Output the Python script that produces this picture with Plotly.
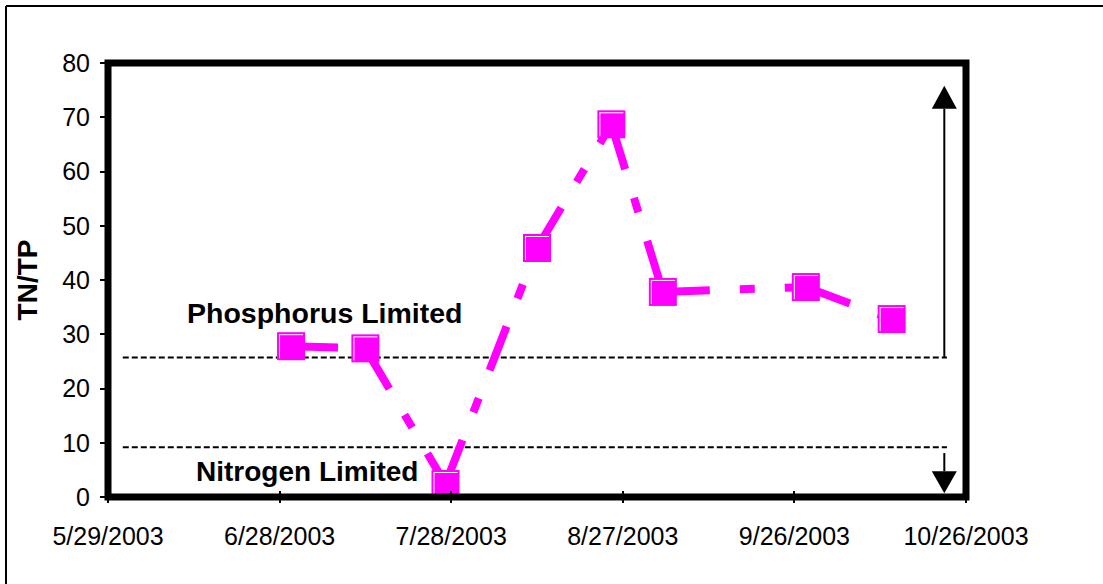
import pandas as pd
import plotly.graph_objects as go

# ---- data ----
sample_dates = ['2003-06-30', '2003-07-13', '2003-07-27', '2003-08-12',
                '2003-08-25', '2003-09-03', '2003-09-28', '2003-10-13']
tn_tp = [27.8, 27.4, 2.4, 45.9, 68.7, 37.8, 38.7, 32.8]

tick_dates = ['2003-05-29', '2003-06-28', '2003-07-28', '2003-08-27',
              '2003-09-26', '2003-10-26']
tick_labels = ['5/29/2003', '6/28/2003', '7/28/2003', '8/27/2003',
               '9/26/2003', '10/26/2003']
y_ticks = [0, 10, 20, 30, 40, 50, 60, 70, 80]

phosphorus_limit = 25.7
nitrogen_limit = 9.15
limit_line_start = '2003-05-31 14:00'
limit_line_end = '2003-10-22 16:00'
arrow_date = '2003-10-22 05:00'
arrow_up_tip = 75.8
arrow_down_start = 8.1
arrow_down_tip = 0.7

# ---- geometry ----
W_FIG, H_FIG = 1103, 584
ML, MR, MT, MB = 108, 137, 63, 87
PW, PH = W_FIG - ML - MR, H_FIG - MT - MB

MAGENTA = '#FF00FF'
FONT = 'Arial, Liberation Sans, sans-serif'

x_start = pd.Timestamp(tick_dates[0])
x_end = pd.Timestamp(tick_dates[-1])
ms_per_px = (x_end - x_start) / PW
y_per_px = (y_ticks[-1] - y_ticks[0]) / PH

fig = go.Figure()

# dashed line, pattern restarts at every segment
for i in range(len(sample_dates) - 1):
    fig.add_trace(go.Scatter(
        x=sample_dates[i:i + 2], y=tn_tp[i:i + 2], mode='lines',
        line=dict(color=MAGENTA, width=8, dash='47px,30px,15px,30px'),
        hoverinfo='skip', showlegend=False))

# markers: magenta body + white inner highlight (top / left)
fig.add_trace(go.Scatter(
    x=sample_dates, y=tn_tp, mode='markers',
    marker=dict(symbol='square', size=28, color=MAGENTA, line=dict(width=0)),
    showlegend=False, name='TN/TP'))
fig.add_trace(go.Scatter(
    x=sample_dates, y=tn_tp, mode='markers',
    marker=dict(symbol='square', size=24, color='white', line=dict(width=0)),
    hoverinfo='skip', showlegend=False))
fig.add_trace(go.Scatter(
    x=sample_dates, y=tn_tp, mode='markers', xaxis='x3', yaxis='y3',
    marker=dict(symbol='square', size=24, color=MAGENTA, line=dict(width=0)),
    hoverinfo='skip', showlegend=False))

# second x axis only for the inward half of the crossing ticks
fig.add_trace(go.Scatter(x=tick_dates[:1], y=[None], xaxis='x2',
                         showlegend=False, hoverinfo='skip'))

shapes = []
for lvl in (phosphorus_limit, nitrogen_limit):
    shapes.append(dict(type='line', xref='x', yref='y',
                       x0=limit_line_start, x1=limit_line_end, y0=lvl, y1=lvl,
                       line=dict(color='black', width=2, dash='6px,3px'),
                       layer='below'))
# up arrow
shapes.append(dict(type='line', xref='x', yref='y', x0=arrow_date, x1=arrow_date,
                   y0=phosphorus_limit, y1=arrow_up_tip - 23 * y_per_px,
                   line=dict(color='black', width=2)))
shapes.append(dict(type='path', xref='x', yref='y', xsizemode='pixel',
                   ysizemode='pixel', xanchor=arrow_date, yanchor=arrow_up_tip,
                   path='M0,0 L-12.5,-23 L12.5,-23 Z',
                   fillcolor='black', line=dict(width=0)))
# down arrow
shapes.append(dict(type='line', xref='x', yref='y', x0=arrow_date, x1=arrow_date,
                   y0=arrow_down_start, y1=arrow_down_tip + 22 * y_per_px,
                   line=dict(color='black', width=2)))
shapes.append(dict(type='path', xref='x', yref='y', xsizemode='pixel',
                   ysizemode='pixel', xanchor=arrow_date, yanchor=arrow_down_tip,
                   path='M0,0 L-12.5,22 L12.5,22 Z',
                   fillcolor='black', line=dict(width=0)))
# plot-area frame
shapes.append(dict(type='rect', xref='paper', yref='paper', x0=0, x1=1, y0=0, y1=1,
                   line=dict(color='black', width=7), layer='above'))
# chart-area border: only its left and top edges are in view
bx = (6 - ML) / PW
by = (H_FIG - MB - 6) / PH
shapes.append(dict(type='line', xref='paper', yref='paper',
                   x0=bx, x1=(W_FIG + 50 - ML) / PW, y0=by, y1=by,
                   line=dict(color='black', width=2), layer='above'))
shapes.append(dict(type='line', xref='paper', yref='paper',
                   x0=bx, x1=bx, y0=-(MB + 50) / PH, y1=by,
                   line=dict(color='black', width=2), layer='above'))

annotations = [
    dict(text='<b>Phosphorus Limited</b>', xref='paper', yref='paper',
         x=(324.5 - ML) / PW, y=(H_FIG - MB - 313) / PH, showarrow=False,
         xanchor='center', yanchor='middle',
         font=dict(family=FONT, size=28.5, color='black')),
    dict(text='<b>Nitrogen Limited</b>', xref='paper', yref='paper',
         x=(307 - ML) / PW, y=(H_FIG - MB - 471) / PH, showarrow=False,
         xanchor='center', yanchor='middle',
         font=dict(family=FONT, size=28, color='black')),
]

fig.update_layout(
    width=W_FIG, height=H_FIG,
    margin=dict(l=ML, r=MR, t=MT, b=MB, pad=0),
    paper_bgcolor='white', plot_bgcolor='white',
    font=dict(family=FONT, color='black'),
    showlegend=False,
    xaxis=dict(type='date', range=[tick_dates[0], tick_dates[-1]],
               tickmode='array', tickvals=tick_dates, ticktext=tick_labels,
               ticks='outside', ticklen=5, tickwidth=2, tickcolor='black',
               tickfont=dict(size=25), ticklabelstandoff=12,
               showgrid=False, zeroline=False, showline=False),
    xaxis2=dict(type='date', overlaying='x', range=[tick_dates[0], tick_dates[-1]],
                tickmode='array', tickvals=tick_dates, showticklabels=False,
                ticks='inside', ticklen=6, tickwidth=2, tickcolor='black',
                showgrid=False, zeroline=False, showline=False),
    xaxis3=dict(type='date', overlaying='x', visible=False,
                range=[(x_start - ms_per_px).isoformat(), (x_end - ms_per_px).isoformat()]),
    yaxis=dict(range=[y_ticks[0], y_ticks[-1]], tickmode='array', tickvals=y_ticks,
               ticks='outside', ticklen=7, tickwidth=2, tickcolor='black',
               tickfont=dict(size=25), ticklabelstandoff=5,
               showgrid=False, zeroline=False, showline=False,
               title=dict(text='<b>TN/TP</b>', font=dict(size=28), standoff=16)),
    yaxis3=dict(overlaying='y', visible=False,
                range=[y_ticks[0] + y_per_px, y_ticks[-1] + y_per_px]),
    shapes=shapes, annotations=annotations,
)

fig.write_html('out.html',
               config={'displayModeBar': False},
               post_script="document.body.style.margin='0px';"
                           "document.body.style.overflow='hidden';")
